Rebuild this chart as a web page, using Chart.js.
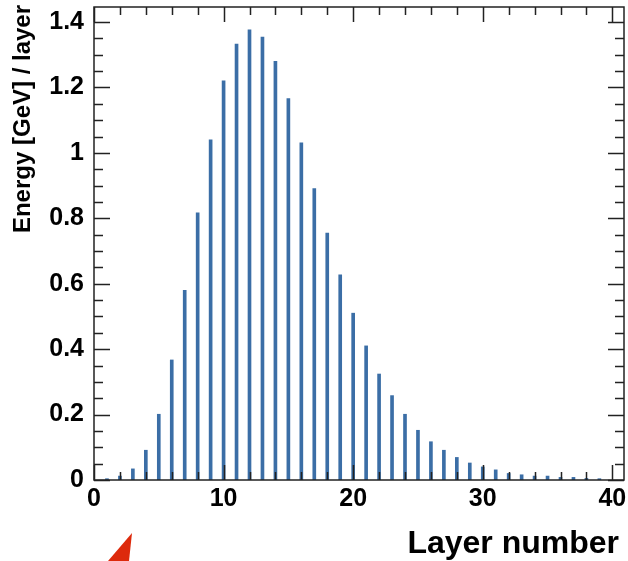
<!DOCTYPE html>
<html lang="en">
<head>
    <meta charset="UTF-8">
    <title>Energy per layer</title>
    <script src="https://cdn.jsdelivr.net/npm/chart.js"></script>
    <style>
        html, body {
            margin: 0;
            padding: 0;
            background: #fff;
        }
    </style>
</head>
<body>
    <canvas id="myChart" width="628" height="561"></canvas>

    <script>
        // Layer numbers and deposited energy per layer (GeV)
        const layers = [1, 2, 3, 4, 5, 6, 7, 8, 9, 10, 11, 12, 13, 14, 15, 16, 17, 18, 19, 20,
                        21, 22, 23, 24, 25, 26, 27, 28, 29, 30, 31, 32, 33, 34, 35, 36, 37, 38, 39];
        const energy = [0.004, 0.012, 0.034, 0.091, 0.201, 0.367, 0.58, 0.817, 1.04, 1.22,
                        1.333, 1.376, 1.354, 1.28, 1.166, 1.031, 0.891, 0.755, 0.627, 0.51,
                        0.41, 0.324, 0.258, 0.201, 0.152, 0.117, 0.091, 0.069, 0.052, 0.04,
                        0.031, 0.02, 0.016, 0.012, 0.012, 0.008, 0.008, 0.005, 0.004];

        // Axis ranges and labelled ticks
        const xRange = [0, 40.9];
        const yRange = [0, 1.446];
        const xTickValues = [0, 10, 20, 30, 40];
        const yTickValues = [0, 0.2, 0.4, 0.6, 0.8, 1, 1.2, 1.4];
        const yTickLabels = ['0', '0.2', '0.4', '0.6', '0.8', '1', '1.2', '1.4'];
        const xMinorStep = 2;
        const yMinorStep = 0.05;

        const xTitle = 'Layer number';
        const yTitle = 'Energy [GeV] / layer';

        const FONT = '"Liberation Sans", Arial, Helvetica, sans-serif';

        // ROOT-like frame: box around the plot with inward ticks on all four sides
        const framePlugin = {
            id: 'frame',
            afterDatasetsDraw(chart) {
                const {ctx, chartArea: a, scales: {x, y}} = chart;
                ctx.save();
                ctx.strokeStyle = '#222';
                ctx.lineWidth = 1.5;
                ctx.strokeRect(a.left, a.top, a.right - a.left, a.bottom - a.top);

                ctx.beginPath();
                // x ticks, bottom and top
                for (let v = xRange[0]; v <= xRange[1] + 1e-9; v += xMinorStep) {
                    const px = Math.round(x.getPixelForValue(v)) + 0.5;
                    const len = (v % 10 === 0) ? 15 : 8;
                    ctx.moveTo(px, a.bottom); ctx.lineTo(px, a.bottom - len);
                    ctx.moveTo(px, a.top); ctx.lineTo(px, a.top + len);
                }
                // y ticks, left and right
                for (let i = 0; i * yMinorStep <= yRange[1] + 1e-9; i++) {
                    const py = Math.round(y.getPixelForValue(i * yMinorStep)) + 0.5;
                    const len = (i % 4 === 0) ? 16 : 9;
                    ctx.moveTo(a.left, py); ctx.lineTo(a.left + len, py);
                    ctx.moveTo(a.right, py); ctx.lineTo(a.right - len, py);
                }
                ctx.stroke();
                ctx.restore();
            },
            afterDraw(chart) {
                const {ctx} = chart;
                ctx.save();
                ctx.fillStyle = '#000';
                ctx.font = 'bold 32px ' + FONT;
                ctx.textAlign = 'right';
                ctx.textBaseline = 'alphabetic';
                ctx.fillText(xTitle, 619, 553);

                ctx.font = 'bold 24px ' + FONT;
                ctx.translate(30, 119);
                ctx.rotate(-Math.PI / 2);
                ctx.textAlign = 'center';
                ctx.fillText(yTitle, 0, 0);
                ctx.restore();

                // small red corner marker
                ctx.save();
                ctx.fillStyle = '#dd2a0c';
                ctx.beginPath();
                ctx.moveTo(108, 561);
                ctx.lineTo(132, 533);
                ctx.lineTo(129, 561);
                ctx.closePath();
                ctx.fill();
                ctx.restore();
            }
        };

        const ctx = document.getElementById('myChart').getContext('2d');
        new Chart(ctx, {
            type: 'bar',
            data: {
                datasets: [{
                    label: 'Energy',
                    data: layers.map((l, i) => ({x: l, y: energy[i]})),
                    backgroundColor: '#3b6ea6',
                    borderWidth: 0,
                    barThickness: 3
                }]
            },
            options: {
                responsive: false,
                maintainAspectRatio: false,
                animation: false,
                devicePixelRatio: 1,
                layout: {padding: {top: 7, right: 4, left: 0, bottom: 0}},
                plugins: {
                    legend: {display: false},
                    tooltip: {enabled: false}
                },
                scales: {
                    x: {
                        type: 'linear',
                        min: xRange[0],
                        max: xRange[1],
                        offset: false,
                        grid: {display: false},
                        border: {display: false},
                        afterBuildTicks: s => { s.ticks = xTickValues.map(v => ({value: v})); },
                        afterFit: s => {
                            s.height = 81;
                            s.paddingLeft = 0;
                            s.paddingRight = 0;
                        },
                        ticks: {
                            color: '#000',
                            padding: -4,
                            maxRotation: 0,
                            font: {family: FONT, size: 25, weight: 'bold'}
                        }
                    },
                    y: {
                        min: yRange[0],
                        max: yRange[1],
                        grid: {display: false},
                        border: {display: false},
                        afterBuildTicks: s => { s.ticks = yTickValues.map(v => ({value: v})); },
                        afterFit: s => {
                            s.width = 94;
                            s.paddingTop = 0;
                            s.paddingBottom = 0;
                        },
                        ticks: {
                            color: '#000',
                            padding: 2,
                            callback: (v, i) => yTickLabels[i],
                            font: {family: FONT, size: 25, weight: 'bold'}
                        }
                    }
                }
            },
            plugins: [framePlugin]
        });
    </script>
</body>
</html>
